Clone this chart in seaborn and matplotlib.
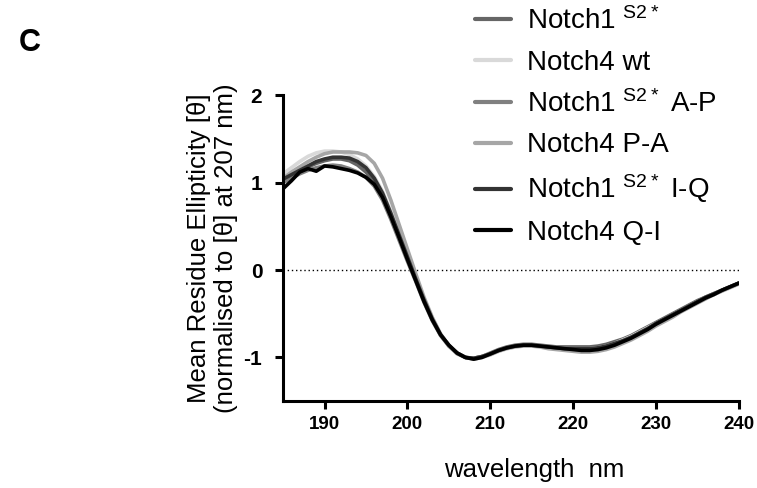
import pandas as pd
import seaborn as sns
import matplotlib
matplotlib.use("Agg")
import matplotlib.pyplot as plt


# wavelength (nm), 1 nm steps
wavelength = list(range(185, 241))

notch1_s2 = [1.02, 1.08, 1.13, 1.18, 1.22, 1.25, 1.27, 1.27, 1.25, 1.20,
             1.12, 1.00, 0.83, 0.60, 0.36, 0.13, -0.11, -0.35, -0.57, -0.74,
             -0.86, -0.95, -1.00, -1.01, -0.99, -0.95, -0.91, -0.88, -0.86, -0.85,
             -0.85, -0.86, -0.87, -0.88, -0.88, -0.88, -0.88, -0.88, -0.87, -0.85,
             -0.82, -0.79, -0.75, -0.70, -0.65, -0.60, -0.55, -0.50, -0.45, -0.40,
             -0.35, -0.31, -0.27, -0.23, -0.19, -0.15]

notch4_wt = [1.10, 1.17, 1.24, 1.30, 1.34, 1.36, 1.36, 1.35, 1.32, 1.27,
             1.19, 1.07, 0.90, 0.67, 0.42, 0.17, -0.08, -0.33, -0.55, -0.73,
             -0.86, -0.95, -1.00, -1.01, -0.99, -0.96, -0.92, -0.89, -0.87, -0.86,
             -0.86, -0.87, -0.88, -0.89, -0.90, -0.90, -0.90, -0.90, -0.89, -0.87,
             -0.84, -0.80, -0.76, -0.71, -0.66, -0.61, -0.56, -0.51, -0.46, -0.41,
             -0.36, -0.31, -0.27, -0.23, -0.19, -0.15]

notch1_s2_ap = [1.00, 1.05, 1.10, 1.14, 1.17, 1.19, 1.20, 1.19, 1.16, 1.12,
                1.06, 0.96, 0.80, 0.58, 0.34, 0.10, -0.13, -0.37, -0.58, -0.75,
                -0.87, -0.95, -1.00, -1.01, -0.99, -0.96, -0.92, -0.89, -0.87, -0.86,
                -0.86, -0.87, -0.88, -0.89, -0.90, -0.91, -0.91, -0.91, -0.90, -0.88,
                -0.85, -0.81, -0.77, -0.72, -0.67, -0.62, -0.57, -0.52, -0.47, -0.42,
                -0.37, -0.32, -0.28, -0.23, -0.19, -0.15]

notch4_pa = [1.05, 1.12, 1.18, 1.24, 1.29, 1.33, 1.35, 1.35, 1.35, 1.34,
             1.31, 1.22, 1.05, 0.80, 0.52, 0.24, -0.04, -0.31, -0.54, -0.73,
             -0.87, -0.96, -1.00, -1.02, -1.00, -0.97, -0.93, -0.90, -0.88, -0.87,
             -0.87, -0.88, -0.90, -0.91, -0.92, -0.93, -0.94, -0.94, -0.93, -0.91,
             -0.88, -0.84, -0.80, -0.75, -0.70, -0.64, -0.59, -0.54, -0.48, -0.43,
             -0.38, -0.33, -0.28, -0.24, -0.20, -0.16]

notch1_s2_iq = [1.04, 1.09, 1.14, 1.19, 1.24, 1.27, 1.29, 1.29, 1.28, 1.24,
                1.17, 1.05, 0.88, 0.65, 0.40, 0.15, -0.10, -0.34, -0.56, -0.74,
                -0.86, -0.95, -1.00, -1.01, -0.99, -0.96, -0.92, -0.89, -0.87, -0.86,
                -0.86, -0.87, -0.88, -0.89, -0.90, -0.90, -0.90, -0.90, -0.89, -0.87,
                -0.84, -0.81, -0.77, -0.72, -0.67, -0.61, -0.56, -0.51, -0.46, -0.41,
                -0.36, -0.31, -0.27, -0.23, -0.19, -0.15]

notch4_qi = [0.93, 1.02, 1.12, 1.16, 1.13, 1.19, 1.18, 1.16, 1.14, 1.11,
             1.06, 0.98, 0.83, 0.61, 0.37, 0.12, -0.12, -0.36, -0.57, -0.74,
             -0.86, -0.95, -1.00, -1.02, -1.00, -0.96, -0.92, -0.89, -0.87, -0.86,
             -0.86, -0.87, -0.88, -0.89, -0.90, -0.91, -0.92, -0.92, -0.91, -0.89,
             -0.86, -0.82, -0.78, -0.73, -0.68, -0.62, -0.57, -0.52, -0.47, -0.42,
             -0.37, -0.32, -0.28, -0.23, -0.19, -0.15]

labels = [r"Notch1 $^{\mathregular{S2*}}$",
          "Notch4 wt",
          r"Notch1 $^{\mathregular{S2*}}$ A-P",
          "Notch4 P-A",
          r"Notch1 $^{\mathregular{S2*}}$ I-Q",
          "Notch4 Q-I"]
series = [notch1_s2, notch4_wt, notch1_s2_ap, notch4_pa, notch1_s2_iq, notch4_qi]
colors = ["#666666", "#d9d9d9", "#808080", "#a6a6a6", "#333333", "#000000"]

df = pd.concat([pd.DataFrame({"wl": wavelength, "mre": s, "sample": lab})
                for s, lab in zip(series, labels)], ignore_index=True)

sns.set_style("ticks")
plt.rcParams["font.family"] = ["Liberation Sans", "DejaVu Sans"]
plt.rcParams["mathtext.default"] = "regular"
plt.rcParams["axes.unicode_minus"] = False
plt.rcParams["text.color"] = "black"
plt.rcParams["axes.labelcolor"] = "black"
plt.rcParams["xtick.color"] = "black"
plt.rcParams["ytick.color"] = "black"

fig = plt.figure(figsize=(7.57, 4.88), dpi=100)
ax = fig.add_axes([0.374, 0.178, 0.602, 0.627])

sns.lineplot(data=df, x="wl", y="mre", hue="sample", palette=colors,
             hue_order=labels, linewidth=2.6, ax=ax, legend=False)
ax.axhline(0, color="black", linestyle=(0, (1, 2)), linewidth=1.0, zorder=0)

ax.set_xlim(185, 240)
ax.set_ylim(-1.5, 2)
ax.set_xticks([190, 200, 210, 220, 230, 240])
ax.set_yticks([-1, 0, 1, 2])
for lab in ax.get_xticklabels() + ax.get_yticklabels():
    lab.set_fontweight("bold")
ax.tick_params(axis="x", length=6, width=2.2, labelsize=13.5, pad=5)
ax.tick_params(axis="y", length=6, width=2.2, labelsize=15, pad=9)
sns.despine(ax=ax)
for sp in ["left", "bottom"]:
    ax.spines[sp].set_linewidth(2.2)
    ax.spines[sp].set_color("black")

ax.set_xlabel("wavelength  nm", fontsize=18.5)
ax.xaxis.set_label_coords(0.55, -0.185)
ax.set_ylabel("Mean Residue Ellipticity [θ]\n(normalised to [θ] at 207 nm)",
              fontsize=18.5, linespacing=1.15)

handles = [plt.Line2D([], [], color=c, linewidth=3) for c in colors]
fig.legend(handles, labels, loc="upper left", bbox_to_anchor=(0.627, 0.985),
           frameon=False, fontsize=20, handlelength=1.3, handletextpad=0.6,
           labelspacing=0.52, borderpad=0, borderaxespad=0)

fig.text(0.025, 0.912, "C", fontsize=22, fontweight="bold", va="center")

fig.savefig("out.png", dpi=100)
